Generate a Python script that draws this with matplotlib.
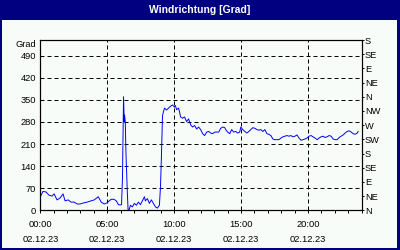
import matplotlib.pyplot as plt
import matplotlib.transforms as mtransforms
from matplotlib.patches import Rectangle

# wind direction readings, 02.12.23 (hours of day, degrees)
hours = [0.0, 0.2, 0.43, 0.65, 0.88, 1.03, 1.25, 1.48, 1.7, 1.85, 2.08, 2.3, 2.53,
         2.75, 2.98, 3.2, 3.5, 3.8, 4.03, 4.33, 4.55, 4.78, 5.0, 5.15, 5.3, 5.5,
         5.68, 5.83, 5.98, 6.07, 6.14, 6.22, 6.27, 6.3, 6.35, 6.4, 6.5, 6.56, 6.65,
         6.73, 6.88, 7.03, 7.18, 7.33, 7.48, 7.63, 7.78, 7.85, 8.0, 8.15, 8.3, 8.45,
         8.6, 8.75, 8.9, 8.98, 9.05, 9.13, 9.2, 9.28, 9.43, 9.58, 9.73, 9.88, 10.03,
         10.1, 10.18, 10.33, 10.4, 10.48, 10.63, 10.78, 10.93, 11.08, 11.23, 11.38,
         11.53, 11.68, 11.83, 11.98, 12.13, 12.28, 12.43, 12.58, 12.73, 12.88, 13.03,
         13.18, 13.33, 13.48, 13.63, 13.78, 13.85, 14.0, 14.15, 14.3, 14.45, 14.6,
         14.75, 14.9, 14.98, 15.13, 15.28, 15.43, 15.58, 15.73, 15.88, 16.03, 16.18,
         16.33, 16.48, 16.63, 16.78, 16.93, 17.08, 17.23, 17.38, 17.53, 17.68, 17.83,
         17.98, 18.13, 18.28, 18.43, 18.58, 18.73, 18.88, 19.03, 19.18, 19.33, 19.48,
         19.63, 19.78, 19.93, 20.08, 20.23, 20.38, 20.53, 20.68, 20.83, 20.98, 21.13,
         21.28, 21.43, 21.58, 21.73, 21.88, 22.03, 22.18, 22.33, 22.48, 22.63, 22.78,
         22.93, 23.08, 23.23, 23.38, 23.53, 23.68, 23.75]
degrees = [43, 60, 58, 48, 45, 52, 33, 39, 52, 30, 33, 26, 26,
           20, 20, 23, 26, 30, 33, 43, 26, 20, 24, 30, 35, 35,
           30, 18, 17, 18, 103, 360, 280, 302, 280, 182, 61, 0, 3,
           16, 11, 22, 16, 26, 18, 30, 43, 30, 37, 22, 33, 22,
           11, 7, 16, 75, 170, 300, 312, 324, 318, 324, 330, 334, 327,
           332, 319, 324, 313, 296, 292, 296, 281, 290, 271, 264,
           269, 258, 264, 256, 243, 237, 248, 250, 245, 243, 248,
           248, 248, 260, 264, 262, 256, 248, 243, 256, 248, 250,
           245, 248, 264, 256, 250, 245, 250, 256, 262, 260, 256,
           254, 256, 250, 256, 243, 241, 237, 226, 224, 224, 224,
           229, 233, 235, 237, 235, 237, 233, 235, 239, 229, 222,
           224, 226, 229, 235, 237, 233, 229, 224, 229, 233, 235,
           231, 233, 237, 235, 226, 224, 224, 231, 235, 239, 245,
           250, 252, 248, 243, 241, 245, 250]

left_ticks = [0, 70, 140, 210, 280, 350, 420, 490]
right_ticks = [0, 45, 90, 135, 180, 225, 270, 315, 360, 405, 450, 495, 540]
compass = ['N', 'NE', 'E', 'SE', 'S', 'SW', 'W', 'NW', 'N', 'NE', 'E', 'SE', 'S']
x_ticks = [0, 5, 10, 15, 20]
x_labels = ['00:00\n02.12.23', '05:00\n02.12.23', '10:00\n02.12.23',
            '15:00\n02.12.23', '20:00\n02.12.23']

navy = '#000080'
bg = '#f8fcf8'
plt.rcParams['font.family'] = ['Liberation Sans', 'DejaVu Sans']
plt.rcParams['font.size'] = 6.7

fig = plt.figure(figsize=(4, 2.5), dpi=100, facecolor=navy)
fig.patches.append(Rectangle((2/400, 2/250), 395/400, 228/250, transform=fig.transFigure,
                             facecolor=bg, edgecolor='none', zorder=-10))
fig.text(0.5, 1 - 10/250, 'Windrichtung [Grad]', ha='center', va='center',
         color='white', weight='bold', fontsize=7.5)

ax = fig.add_axes([40.3/400, 39.7/250, 321.2/400, 170.3/250], facecolor=bg)
ax.plot(hours, degrees, color='#0000ff', lw=0.7, zorder=3)
ax.set_xlim(0, 24)
ax.set_ylim(0, 540)

ax.set_yticks(left_ticks)
ax.tick_params(axis='y', length=0, pad=2.9)
ax.text(-4/321.2, 525, 'Grad', ha='right', va='center',
        transform=mtransforms.blended_transform_factory(ax.transAxes, ax.transData))

ax.set_xticks(x_ticks)
ax.set_xticklabels(x_labels, linespacing=1.8)
ax.set_xticks(range(0, 25), minor=True)
ax.tick_params(axis='x', which='both', direction='out', length=2.2, width=0.7, pad=5)

ax.grid(True, which='major', color='black', lw=0.72, linestyle=(0, (4, 3)))
for s in ax.spines.values():
    s.set_linewidth(0.8)

ax2 = ax.twinx()
ax2.set_ylim(0, 540)
ax2.set_yticks(right_ticks)
ax2.set_yticklabels(compass)
ax2.tick_params(axis='y', direction='out', length=1.6, width=0.7, pad=0.8)
for s in ax2.spines.values():
    s.set_linewidth(0.8)

fig.savefig('out.png', dpi=100, facecolor=fig.get_facecolor())
